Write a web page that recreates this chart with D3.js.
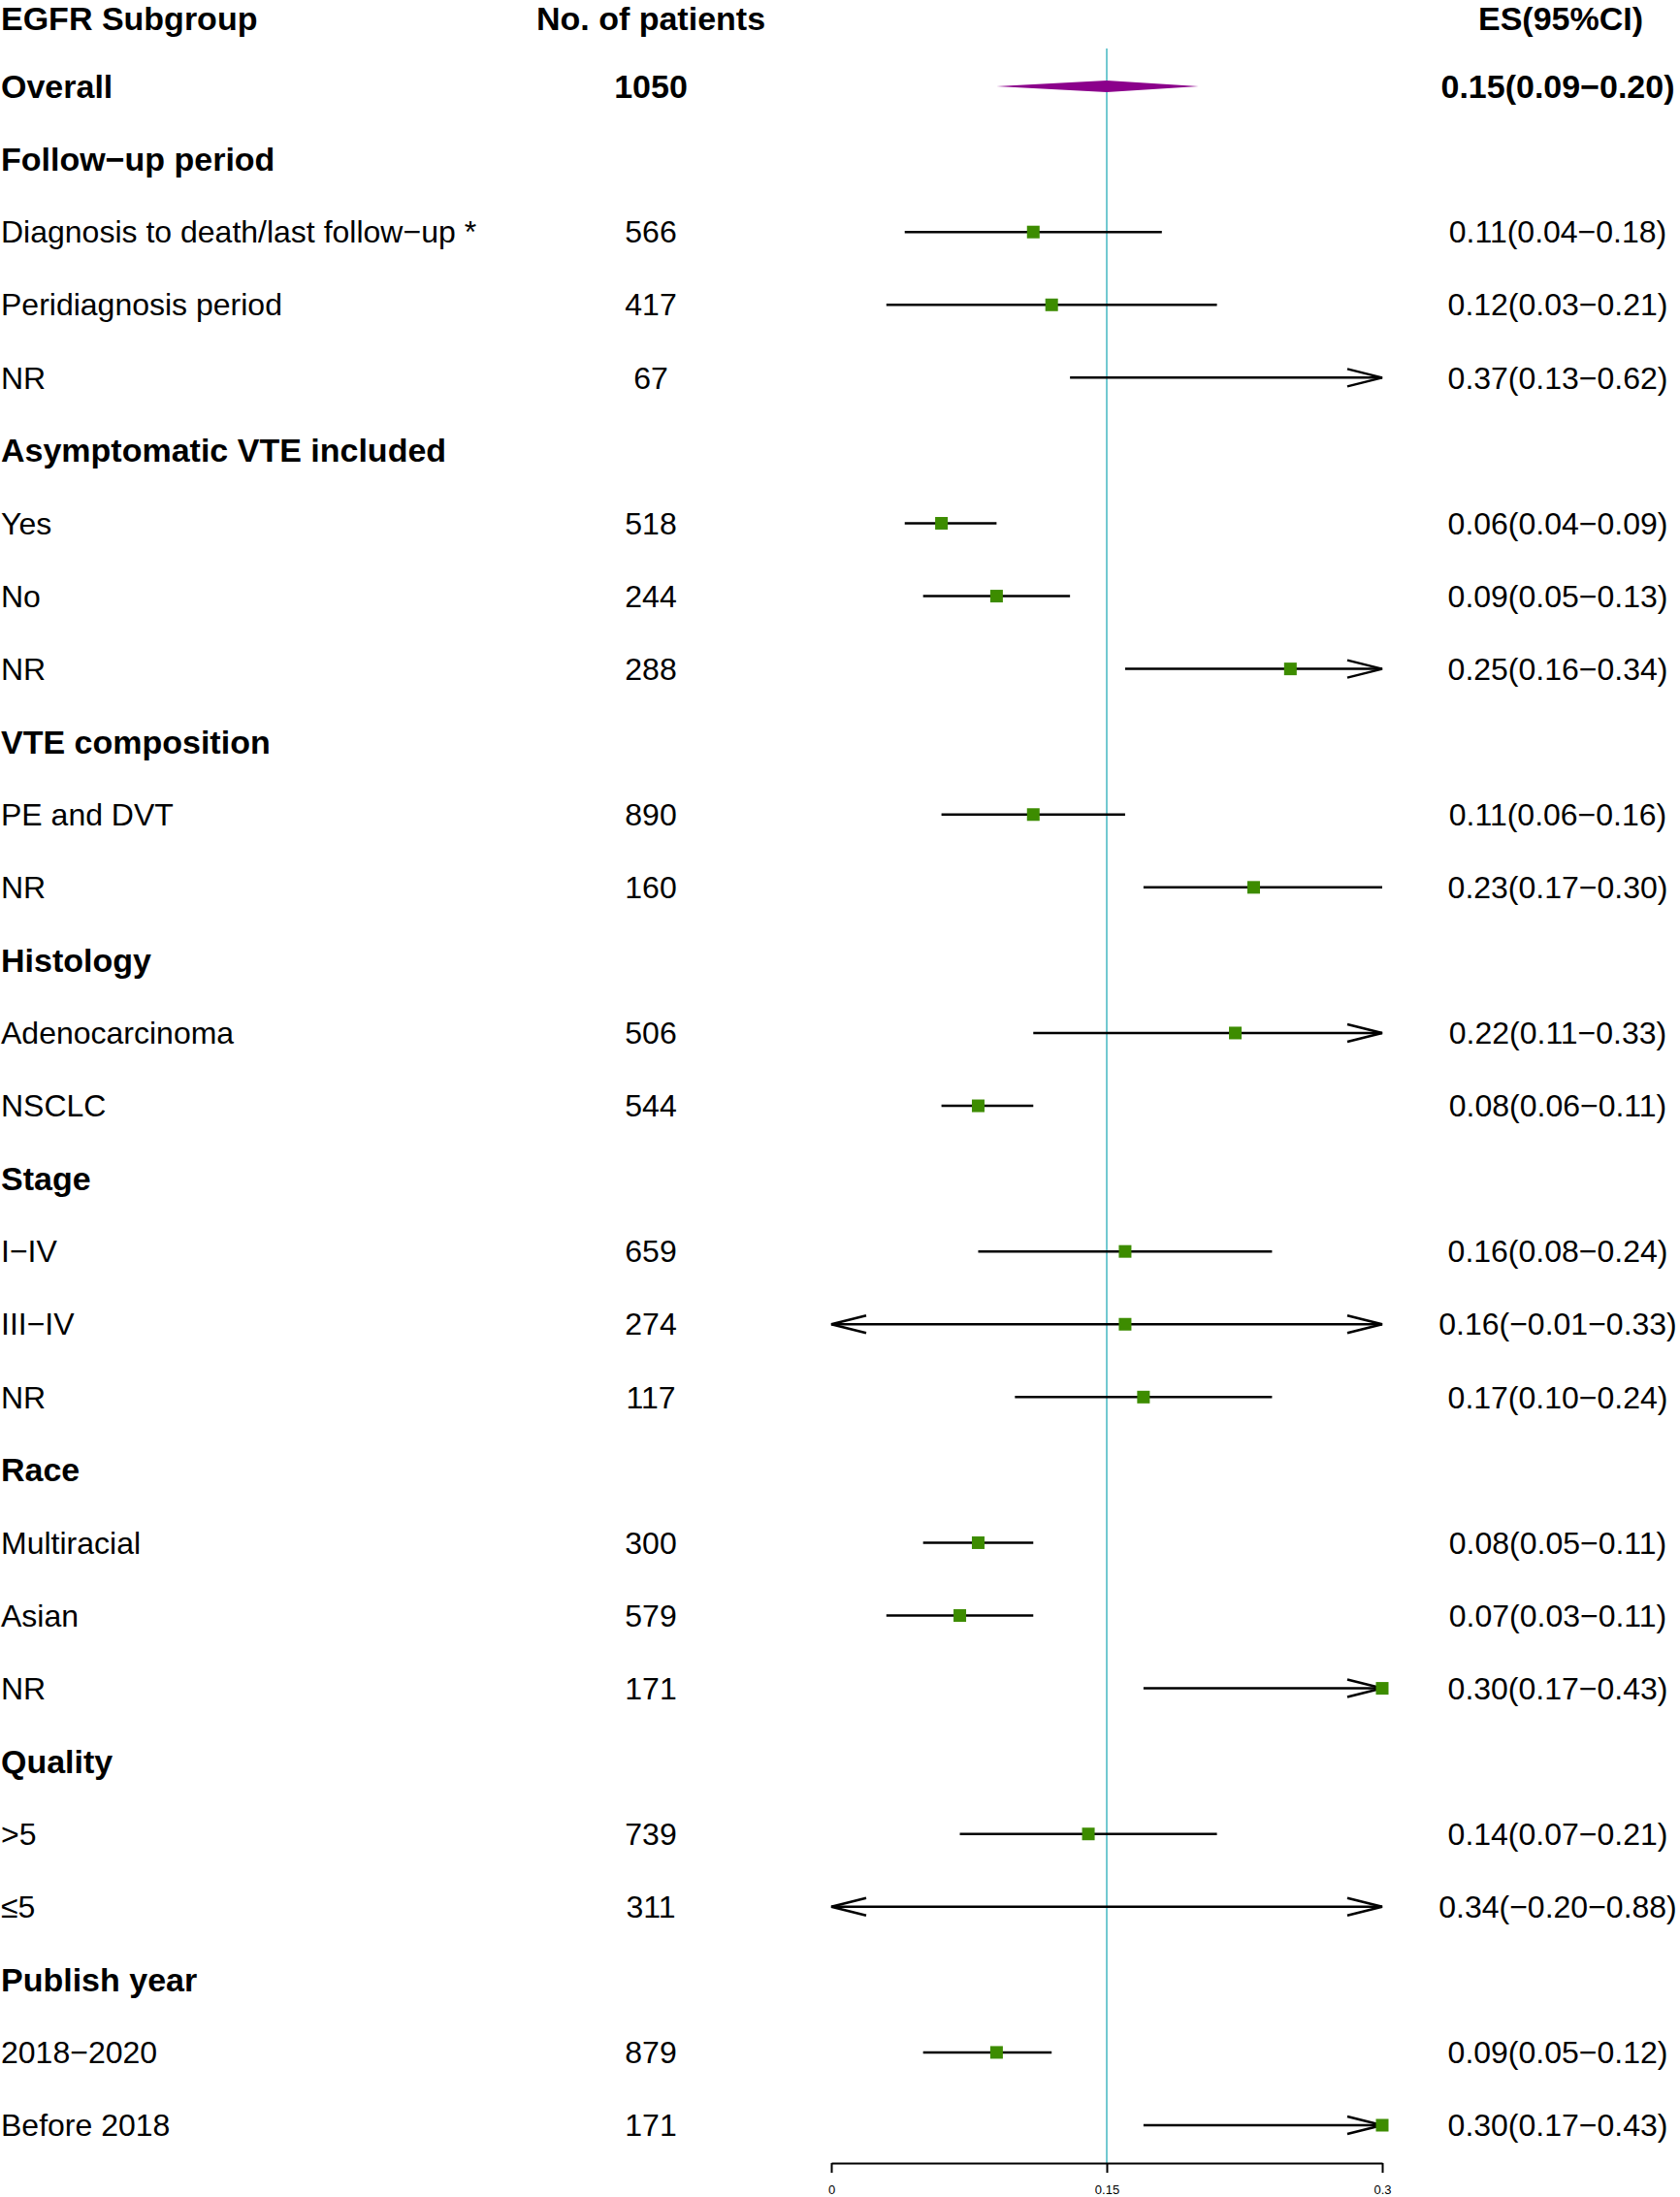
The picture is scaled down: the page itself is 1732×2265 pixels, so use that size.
<!DOCTYPE html>
<html>
<head>
<meta charset="utf-8">
<script src="https://cdn.jsdelivr.net/npm/d3@7"></script>
<style>
body{margin:0;background:#fff}
text{font-family:"Liberation Sans",Arial,Helvetica,sans-serif}
</style>
</head>
<body>
<div id="chart"></div>
<script>
// rows of the forest plot, top to bottom (after the header)
var rowLabels = ["Overall","Follow\u2212up period","Diagnosis to death/last follow\u2212up *","Peridiagnosis period","NR",
  "Asymptomatic VTE included","Yes","No","NR",
  "VTE composition","PE and DVT","NR",
  "Histology","Adenocarcinoma","NSCLC",
  "Stage","I\u2212IV","III\u2212IV","NR",
  "Race","Multiracial","Asian","NR",
  "Quality",">5","\u22645",
  "Publish year","2018\u22122020","Before 2018"]
var rowType = ["overall","group","study","study","study",
  "group","study","study","study",
  "group","study","study",
  "group","study","study",
  "group","study","study","study",
  "group","study","study","study",
  "group","study","study",
  "group","study","study"]
var patients = [1050,null,566,417,67, null,518,244,288, null,890,160, null,506,544, null,659,274,117, null,300,579,171, null,739,311, null,879,171]
var esVal  = [0.15,null,0.11,0.12,0.37, null,0.06,0.09,0.25, null,0.11,0.23, null,0.22,0.08, null,0.16,0.16,0.17, null,0.08,0.07,0.30, null,0.14,0.34, null,0.09,0.30]
var ciLow  = [0.09,null,0.04,0.03,0.13, null,0.04,0.05,0.16, null,0.06,0.17, null,0.11,0.06, null,0.08,-0.01,0.10, null,0.05,0.03,0.17, null,0.07,-0.20, null,0.05,0.17]
var ciHigh = [0.20,null,0.18,0.21,0.62, null,0.09,0.13,0.34, null,0.16,0.30, null,0.33,0.11, null,0.24,0.33,0.24, null,0.11,0.11,0.43, null,0.21,0.88, null,0.12,0.43]
var headers = ["EGFR Subgroup","No. of patients","ES(95%CI)"]
var tickVals = [0,0.15,0.3]
var tickLabels = ["0","0.15","0.3"]

var width = 1732, height = 2265
var fs = 32, fsBold = 34
var svg = d3.select("#chart").append("svg").attr("width",width).attr("height",height)

var x = d3.scaleLinear().domain([0,0.3]).range([857,1425])
var y = d3.scaleLinear().domain([0,29]).range([14,2191])
var f = d3.format(".2f")
var xMin = x.domain()[0], xMax = x.domain()[1]

// header
svg.append("text").text(headers[0]).attr("x",1).attr("y",y(0)+5).attr("dy","0.35em")
  .attr("font-size",fsBold).attr("font-weight","bold")
svg.append("text").text(headers[1]).attr("x",671).attr("y",y(0)+5).attr("dy","0.35em")
  .attr("text-anchor","middle").attr("font-size",fsBold).attr("font-weight","bold")
svg.append("text").text(headers[2]).attr("x",1609).attr("y",y(0)+5).attr("dy","0.35em")
  .attr("text-anchor","middle").attr("font-size",fsBold).attr("font-weight","bold")

// reference line
svg.append("line").attr("x1",x(0.15)).attr("x2",x(0.15)).attr("y1",50).attr("y2",2230)
  .attr("stroke","#72c9d1").attr("stroke-width",2)

var rows = svg.selectAll(".row").data(rowLabels).enter().append("g")
  .attr("class","row")
  .attr("transform",function(d,i){return "translate(0,"+y(i+1)+")"})

rows.append("text").text(function(d){return d}).attr("x",1).attr("dy","0.35em")
  .attr("font-size",function(d,i){return rowType[i]=="study"?fs:fsBold})
  .attr("font-weight",function(d,i){return rowType[i]=="study"?"normal":"bold"})

rows.append("text").text(function(d,i){return patients[i]==null?"":patients[i]})
  .attr("x",671).attr("dy","0.35em").attr("text-anchor","middle")
  .attr("font-size",function(d,i){return rowType[i]=="overall"?fsBold:fs})
  .attr("font-weight",function(d,i){return rowType[i]=="overall"?"bold":"normal"})

rows.append("text").text(function(d,i){
    if(esVal[i]==null) return ""
    return f(esVal[i])+"("+f(ciLow[i])+"\u2212"+f(ciHigh[i])+")"
  })
  .attr("x",1606).attr("dy","0.35em").attr("text-anchor","middle")
  .attr("font-size",function(d,i){return rowType[i]=="overall"?fsBold:fs})
  .attr("font-weight",function(d,i){return rowType[i]=="overall"?"bold":"normal"})

// study rows: CI lines, arrows, boxes
rows.each(function(d,i){
  var g = d3.select(this)
  if(rowType[i]=="overall"){
    var pts = [[x(ciLow[i]),0],[x(esVal[i]),-6],[x(ciHigh[i]),0],[x(esVal[i]),6]]
    g.append("path").attr("d","M"+pts.join("L")+"Z").attr("fill","#8b008b")
    return
  }
  if(rowType[i]!="study") return
  var lo = Math.max(ciLow[i],xMin), hi = Math.min(ciHigh[i],xMax)
  g.append("line").attr("x1",x(lo)).attr("x2",x(hi)).attr("stroke","#000").attr("stroke-width",2.5)
  if(ciHigh[i]>xMax){
    g.append("path").attr("d","M"+(x(xMax)-36)+",-9L"+x(xMax)+",0L"+(x(xMax)-36)+",9")
      .attr("fill","none").attr("stroke","#000").attr("stroke-width",2.5)
  }
  if(ciLow[i]<xMin){
    g.append("path").attr("d","M"+(x(xMin)+36)+",-9L"+x(xMin)+",0L"+(x(xMin)+36)+",9")
      .attr("fill","none").attr("stroke","#000").attr("stroke-width",2.5)
  }
  if(esVal[i]>=xMin && esVal[i]<=xMax){
    g.append("rect").attr("x",x(esVal[i])-6.5).attr("y",-6.5).attr("width",13).attr("height",13)
      .attr("fill","#3d8c00")
  }
})

// x axis
var axis = d3.axisBottom(x).tickValues(tickVals)
  .tickFormat(function(d,i){return tickLabels[i]})
  .tickSize(10).tickSizeOuter(0).tickPadding(13)
var ax = svg.append("g").attr("transform","translate(0,2230)").call(axis)
ax.selectAll("path,line").attr("stroke","#000").attr("stroke-width",2)
ax.selectAll("text").attr("font-size",13).attr("font-family","Liberation Sans, Arial, sans-serif")
</script>
</body>
</html>
